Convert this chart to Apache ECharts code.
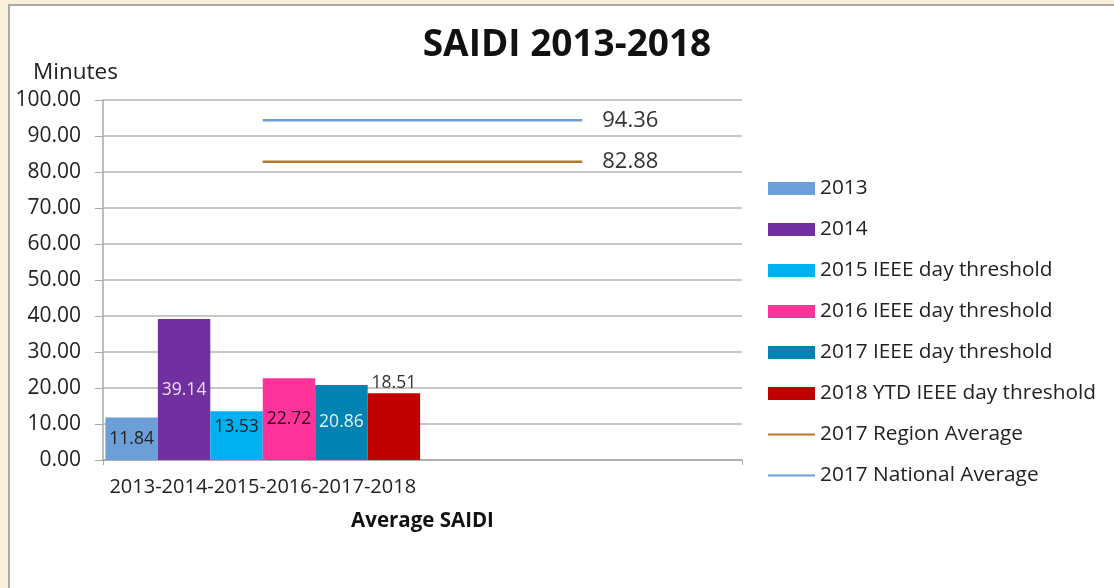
<!DOCTYPE html>
<html lang="en">
<head>
  <meta charset="UTF-8">
  <title>SAIDI 2013-2018</title>
  <style>
    html, body { margin: 0; padding: 0; background: #f8f0da; }
    #chart {
      position: absolute; left: 8px; top: 4px;
      width: 1106px; height: 584px;
      background: #fff;
      border-left: 2px solid #a9a9a9; border-top: 2px solid #a9a9a9;
    }
  </style>
</head>
<body>
  <div id="chart"></div>
  <script src="https://cdn.jsdelivr.net/npm/echarts@6/dist/echarts.min.js"></script>
  <script>
    // categories: all bars sit in the first group, the second is blank
    var categories = ['2013-2014-2015-2016-2017-2018', '']
    var barNames = ['2013', '2014', '2015 IEEE day threshold', '2016 IEEE day threshold',
      '2017 IEEE day threshold', '2018 YTD IEEE day threshold']
    var barValues = [11.84, 39.14, 13.53, 22.72, 20.86, 18.51]
    var barColors = ['#6c9fd8', '#7030a0', '#00b0f0', '#ff3399', '#0083b3', '#c00000']
    var labelColors = ['#222', '#eadff2', '#222', '#2a0818', '#e6f2f7', '#333']
    var lineNames = ['2017 Region Average', '2017 National Average']
    var regionAvg = [82.88, 82.88]
    var nationalAvg = [94.36, 94.36]
    var lineColors = ['#b5782c', '#6c9fd8']
    var yTicks = { min: 0, max: 100, interval: 10 }

    var font = 'Open Sans'
    var fmt = function (p) { return Number(p.value).toFixed(2) }
    var series = []

    barNames.forEach(function (name, i) {
      series.push({
        name: name,
        type: 'bar',
        data: [barValues[i], '-'],
        barGap: '0%',
        barCategoryGap: '1.5%',
        itemStyle: { color: barColors[i] },
        label: {
          show: true,
          position: i === 5 ? 'top' : 'inside',
          offset: i === 2 ? [0, -9] : [0, 0],
          distance: 1,
          color: labelColors[i],
          fontFamily: font,
          fontSize: 17.5,
          formatter: fmt
        }
      })
    })

    ;[regionAvg, nationalAvg].forEach(function (values, i) {
      series.push({
        name: lineNames[i],
        type: 'line',
        symbol: 'none',
        lineStyle: { color: lineColors[i], width: 2.5 },
        itemStyle: { color: lineColors[i] },
        endLabel: {
          show: true, distance: 20,
          color: '#333', fontFamily: font, fontSize: 22,
          formatter: fmt
        },
        data: values
      })
    })

    var legendData = barNames.map(function (n) { return { name: n, icon: 'rect' } })
      .concat(lineNames.map(function (n) {
        return { name: n, itemStyle: { color: 'rgba(0,0,0,0)', borderWidth: 0 } }
      }))

    var chart = echarts.init(document.getElementById('chart'))
    chart.setOption({
      animation: false,
      textStyle: { fontFamily: font },
      title: [
        { text: 'SAIDI 2013-2018', left: 552, top: 16, textAlign: 'center',
          textStyle: { fontFamily: font, fontSize: 37, fontWeight: 'bold', color: '#111' } },
        { text: 'Minutes', left: 18, top: 50,
          textStyle: { fontFamily: font, fontSize: 22.5, fontWeight: 'normal', color: '#222' } }
      ],
      grid: { left: 93, top: 94, width: 639, height: 360 },
      legend: {
        orient: 'vertical',
        left: 752, top: 167,
        itemWidth: 47, itemHeight: 13, itemGap: 20,
        data: legendData,
        textStyle: { fontFamily: font, fontSize: 20.8, color: '#222', lineHeight: 20 }
      },
      xAxis: {
        type: 'category',
        data: categories,
        name: 'Average SAIDI',
        nameLocation: 'middle',
        nameGap: 51,
        nameTextStyle: { fontFamily: font, fontSize: 20.5, fontWeight: 'bold', color: '#111' },
        axisLine: { lineStyle: { color: '#a8a8a8', width: 1.5 } },
        axisTick: { show: true, length: 5, lineStyle: { color: '#a8a8a8' } },
        axisLabel: { fontFamily: font, fontSize: 20, color: '#222', margin: 17 }
      },
      yAxis: {
        type: 'value',
        min: yTicks.min, max: yTicks.max, interval: yTicks.interval,
        axisLine: { show: true, lineStyle: { color: '#a8a8a8', width: 1.5 } },
        axisTick: { show: true, length: 8, lineStyle: { color: '#a8a8a8' } },
        splitLine: { lineStyle: { color: '#b4b4b4', width: 1.5 } },
        axisLabel: { fontFamily: font, fontSize: 21, color: '#222', margin: 22,
          formatter: function (v) { return v.toFixed(2) } }
      },
      series: series
    })
  </script>
</body>
</html>
